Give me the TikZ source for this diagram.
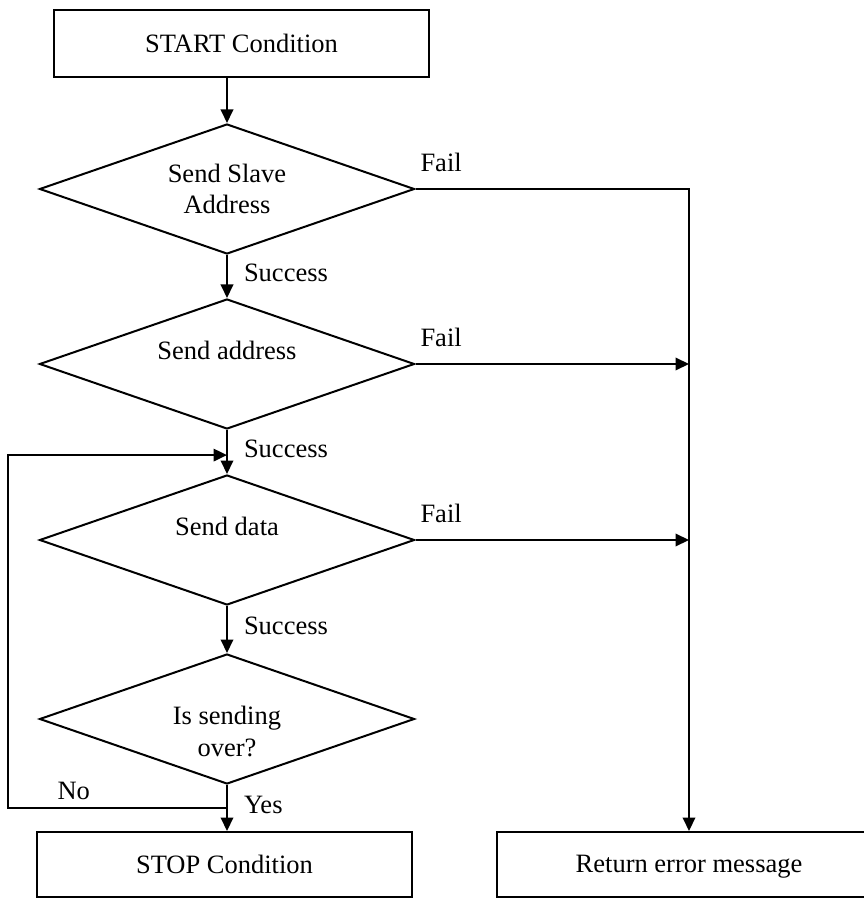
\documentclass[tikz,border=0pt]{standalone}
\usepackage{fontspec}
\setmainfont{Liberation Serif}
\usepackage{tikz}
\usetikzlibrary{shapes,arrows,positioning,calc,shapes.geometric,arrows.meta}

\begin{document}
\begin{tikzpicture}[
    x=0.4pt, y=-0.4pt,
    font=\fontsize{10.6}{12.6}\selectfont,
    box/.style={draw, rectangle, line width=0.8pt, minimum width=150pt,
                minimum height=26.4pt, inner sep=0pt, align=center},
    decision/.style={draw, diamond, aspect=2.9, line width=0.8pt,
                     minimum width=150pt, minimum height=52pt,
                     inner sep=0pt, align=center},
    flow/.style={line width=0.8pt, -{Triangle[length=5.4pt,width=5pt]}},
    tag/.style={inner sep=0pt},
    oktag/.style={tag, anchor=west, xshift=6.4pt, yshift=1.4pt},
    failtag/.style={tag, pos=0, anchor=south west, xshift=1.6pt, yshift=6.6pt}
]
    \useasboundingbox (0,0) rectangle (863,898);

    % Main column
    \node[box, minimum height=26.8pt] (start) at (241.5,43.5) {START Condition};
    \node[decision] (d1) at (227,189) {Send Slave\\Address};
    \node[decision, label={[tag, yshift=5.6pt]center:Send address}] (d2) at (227,364) {};
    \node[decision, label={[tag, yshift=5.6pt]center:Send data}] (d3) at (227,540) {};
    \node[decision, label={[tag, align=center, yshift=-5pt]center:Is sending\\over?}] (d4) at (227,719) {};
    \node[box, minimum height=26pt] (stop) at (224.5,864.5) {STOP Condition};

    % Error box
    \node[box, minimum width=153.6pt, minimum height=26pt, text depth=0.5pt] (err) at (689,864.5) {Return error message};

    % Arrows
    \draw[flow] (d1.north |- start.south) -- (d1.north);
    \draw[flow] (d1) -- node[oktag] {Success} (d2);
    \draw[flow] (d2) -- node[oktag] {Success} (d3);
    \draw[flow] (d3) -- node[oktag] {Success} (d4);
    \draw[flow] (d4.south) -- node[oktag] {Yes} (d4.south |- stop.north);

    % Loop back
    \coordinate (nojoin) at ($(d4.south)!0.5!(d4.south |- stop.north)$);
    \coordinate (loopin) at ($(d2.south)!0.57!(d3.north)$);
    \draw[flow] (nojoin) -- node[tag, pos=0.7, above=2.8pt] {No} ++(-219,0) |- (loopin);

    % Fail branches
    \draw[flow] (d1.east) -- node[failtag] {Fail} (d1.east -| err.north) -- (err.north);
    \draw[flow] (d2.east) -- node[failtag] {Fail} (d2.east -| err.north);
    \draw[flow] (d3.east) -- node[failtag] {Fail} (d3.east -| err.north);
\end{tikzpicture}
\end{document}
